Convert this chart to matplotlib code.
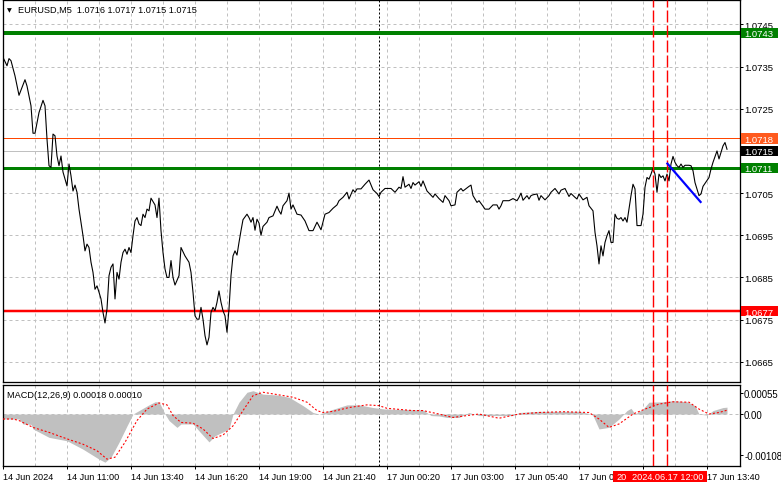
import matplotlib
matplotlib.use("Agg")
import matplotlib.pyplot as plt
from matplotlib.patches import Rectangle
from matplotlib.transforms import blended_transform_factory

plt.rcParams['font.family'] = ['Liberation Sans', 'DejaVu Sans']
plt.rcParams['lines.scale_dashes'] = False

W, H = 781, 489
PX = 0.72  # one pixel in points at dpi 100
FS = 6.6
FS_PRICE = 6.8

# EURUSD M5 closes, bar 0 = 14 Jun 08:20
bar = [0, 2, 3, 4, 6, 8, 11, 12, 14, 15, 16, 18, 20, 21, 22, 23, 24, 25, 26, 27, 28, 29, 30,
       32, 33, 34, 35, 36, 37, 38, 40, 41, 42, 43, 44, 45, 46, 47, 48, 49, 50, 51, 52, 53, 54,
       55, 56, 57, 58, 59, 60, 61, 62, 63, 64, 65, 66, 67, 68, 69, 70, 71, 72, 73, 74, 76, 77,
       78, 79, 80, 81, 82, 83, 84, 85, 86, 88, 89, 91, 93, 94, 95, 96, 97, 98, 99, 100, 101,
       102, 103, 104, 105, 106, 107, 108, 109, 110, 111, 112, 113, 114, 115, 116, 117, 118,
       119, 120, 122, 123, 124, 125, 126, 127, 128, 129, 130, 132, 133, 135, 137, 138, 139,
       140, 142, 143, 144, 145, 147, 149, 151, 153, 155, 157, 159, 161, 163, 165, 167, 168,
       170, 172, 173, 175, 176, 177, 179, 181, 183, 185, 187, 188, 189, 191, 194, 196, 198,
       199, 200, 201, 203, 204, 205, 206, 208, 209, 210, 212, 213, 215, 216, 218, 220, 221,
       223, 224, 226, 227, 229, 230, 233, 234, 235, 237, 238, 240, 241, 243, 245, 247, 248,
       249, 250, 252, 253, 255, 257, 258, 259, 260, 262, 263, 264, 265, 267, 268, 269, 271,
       273, 274, 276, 278, 279, 281, 283, 284, 286, 287, 288, 290, 292, 293, 295, 296, 297,
       298, 299, 300, 301, 302, 303, 304, 305, 306, 307, 308, 309, 310, 311, 312, 314, 315,
       316, 317, 319, 320, 321, 322, 323, 324, 325, 326, 327, 328, 329, 330, 331, 332, 333,
       334, 335, 336, 337, 338, 339, 340, 341, 343, 344, 345, 346, 348, 349, 350, 353, 354,
       355, 357, 358, 360, 361, 362]
close = [1.07372, 1.07352, 1.07369, 1.07364, 1.07328, 1.07282, 1.07319, 1.07304, 1.07257,
         1.07192, 1.07192, 1.07241, 1.07270, 1.07257, 1.07178, 1.07115, 1.07111, 1.07190,
         1.07186, 1.07138, 1.07115, 1.07138, 1.07100, 1.07067, 1.07119, 1.07091, 1.07055,
         1.07069, 1.07052, 1.07012, 1.06949, 1.06913, 1.06929, 1.06921, 1.06886, 1.06862,
         1.06822, 1.06830, 1.06815, 1.06799, 1.06767, 1.06742, 1.06775, 1.06854, 1.06874,
         1.06882, 1.06799, 1.06862, 1.06846, 1.06886, 1.06909, 1.06917, 1.06905, 1.06921,
         1.06909, 1.06949, 1.06984, 1.06992, 1.06977, 1.06973, 1.07000, 1.06992, 1.07012,
         1.07008, 1.07038, 1.07022, 1.06992, 1.07038, 1.06961, 1.06909, 1.06870, 1.06850,
         1.06850, 1.06890, 1.06850, 1.06832, 1.06854, 1.06921, 1.06901, 1.06886, 1.06862,
         1.06815, 1.06759, 1.06751, 1.06751, 1.06779, 1.06751, 1.06712, 1.06690, 1.06708,
         1.06767, 1.06779, 1.06771, 1.06791, 1.06818, 1.06791, 1.06771, 1.06759, 1.06720,
         1.06775, 1.06854, 1.06901, 1.06913, 1.06903, 1.06933, 1.06961, 1.06987, 1.07000,
         1.06992, 1.06981, 1.06992, 1.06962, 1.06988, 1.06979, 1.06950, 1.06971, 1.06981,
         1.06992, 1.06996, 1.07019, 1.07008, 1.07000, 1.07020, 1.07032, 1.07050, 1.07012,
         1.07022, 1.07000, 1.06998, 1.06984, 1.06961, 1.06961, 1.06981, 1.06963, 1.07000,
         1.07004, 1.07014, 1.07022, 1.07032, 1.07040, 1.07052, 1.07036, 1.07058, 1.07052,
         1.07060, 1.07060, 1.07071, 1.07081, 1.07058, 1.07049, 1.07042, 1.07052, 1.07061,
         1.07061, 1.07052, 1.07064, 1.07061, 1.07089, 1.07064, 1.07071, 1.07061, 1.07075,
         1.07069, 1.07077, 1.07066, 1.07079, 1.07055, 1.07050, 1.07040, 1.07048, 1.07037,
         1.07028, 1.07044, 1.07032, 1.07020, 1.07022, 1.07052, 1.07061, 1.07055, 1.07066,
         1.07069, 1.07044, 1.07028, 1.07032, 1.07019, 1.07012, 1.07012, 1.07022, 1.07022,
         1.07012, 1.07020, 1.07032, 1.07032, 1.07032, 1.07037, 1.07032, 1.07040, 1.07050,
         1.07033, 1.07044, 1.07036, 1.07044, 1.07046, 1.07048, 1.07033, 1.07044, 1.07034,
         1.07044, 1.07052, 1.07061, 1.07048, 1.07057, 1.07061, 1.07042, 1.07049, 1.07040,
         1.07036, 1.07048, 1.07034, 1.07040, 1.07020, 1.07008, 1.06957, 1.06925, 1.06882,
         1.06925, 1.06901, 1.06933, 1.06949, 1.06961, 1.06933, 1.06933, 1.07000, 1.06990,
         1.06988, 1.06992, 1.06984, 1.06992, 1.06981, 1.07044, 1.07071, 1.07060, 1.06973,
         1.06973, 1.07000, 1.07064, 1.07087, 1.07083, 1.07095, 1.07109, 1.07095, 1.07052,
         1.07095, 1.07087, 1.07091, 1.07079, 1.07095, 1.07079, 1.07119, 1.07137, 1.07123,
         1.07115, 1.07111, 1.07119, 1.07111, 1.07116, 1.07116, 1.07115, 1.07103, 1.07075,
         1.07044, 1.07048, 1.07066, 1.07087, 1.07107, 1.07123, 1.07150, 1.07131, 1.07162,
         1.07170, 1.07154]

# MACD(12,26,9)
hist_bar = [0, 8, 10, 14, 15, 23, 32, 40, 48, 51, 54, 58, 62, 65, 68, 73, 76, 78, 81, 83, 87,
            89, 95, 98, 103, 106, 113, 115, 118, 122, 125, 130, 137, 143, 150, 155, 158, 163,
            172, 178, 185, 191, 210, 214, 218, 222, 228, 233, 238, 255, 258, 268, 288, 294,
            295, 298, 303, 308, 312, 314, 316, 320, 323, 330, 335, 342, 346, 348, 352, 355,
            360, 362]
hist = [-0.00013, -0.00013, -0.00026, -0.00027, -0.00039, -0.00061, -0.00070, -0.00092,
        -0.00118, -0.00126, -0.00113, -0.00074, -0.00031, 0.0, 0.00009, 0.00024, 0.00032,
        0.00032, 0.0, -0.00017, -0.00035, -0.00026, -0.00026, -0.00044, -0.00073, -0.00057,
        -0.00039, 0.0, 0.00031, 0.00057, 0.00061, 0.00052, 0.00050, 0.00044, 0.00022,
        0.00004, 0.0, 0.00009, 0.00024, 0.00024, 0.00017, 0.00013, 0.00011, -0.00004,
        -0.00005, -0.00009, -0.00009, 0.00004, -0.00004, -0.00004, 0.00004, 0.00007,
        0.00007, 0.0, -0.00004, -0.00039, -0.00035, -0.00013, 0.00009, 0.00015, 0.0,
        0.00013, 0.00031, 0.00032, 0.00035, 0.00032, 0.00022, 0.0, -0.00003, 0.00009,
        0.00017, 0.00018]
sig_bar = [0, 5, 8, 15, 23, 32, 40, 47, 52, 56, 61, 67, 72, 78, 82, 85, 89, 95, 100, 105,
           110, 115, 120, 125, 130, 137, 145, 152, 157, 160, 165, 173, 182, 188, 192, 205,
           210, 218, 225, 232, 238, 248, 258, 268, 280, 293, 298, 303, 308, 315, 321, 328,
           335, 343, 348, 353, 358, 362]
signal = [-0.00013, -0.00013, -0.00017, -0.00035, -0.00048, -0.00065, -0.00079, -0.00096,
          -0.00118, -0.00113, -0.00074, -0.00017, 0.00013, 0.00029, 0.00024, -0.00004,
          -0.00022, -0.00024, -0.00039, -0.00064, -0.00055, -0.00031, 0.00009, 0.00048,
          0.00057, 0.00051, 0.00044, 0.00031, 0.00009, 0.00004, 0.00007, 0.00017, 0.00024,
          0.00022, 0.00015, 0.00009, 0.00009, 0.0, -0.00009, -0.00004, 0.0, -0.00011, 0.0,
          0.00004, 0.00006, 0.00004, -0.00013, -0.00035, -0.00026, 0.0, 0.00013, 0.00026,
          0.00032, 0.00031, 0.00013, 0.0, 0.00004, 0.00010]

# drawn objects
resistance_hi = 1.0743
resistance = 1.0711
support = 1.0677
ask = 1.0718
bid = 1.0715
trend_bar = [332.2, 348.8]
trend_price = [1.07120, 1.07029]
vline_bars = [325, 332]
day_sep_bar = 188

price_ticks = [1.0665, 1.0675, 1.0685, 1.0695, 1.0705, 1.0715, 1.0725, 1.0735, 1.0745]
macd_ticks = [-0.00108, 0.0, 0.00055]
macd_tick_labels = ['-0.00108', '0.00', '0.00055']
time_ticks = [0, 32, 64, 96, 128, 160, 192, 224, 256, 288, 320, 352]
# 08:20 and 11:00 on 17 Jun sit under the red time box, only "17 Jun 0" shows
time_labels = ['14 Jun 2024', '14 Jun 11:00', '14 Jun 13:40', '14 Jun 16:20', '14 Jun 19:00',
               '14 Jun 21:40', '17 Jun 00:20', '17 Jun 03:00', '17 Jun 05:40', '17 Jun 0',
               '', '17 Jun 13:40']


def rect(x0, y0, x1, y1):
    return [x0 / W, 1 - y1 / H, (x1 - x0) / W, (y1 - y0) / H]


fig = plt.figure(figsize=(W / 100, H / 100), dpi=100)
ax = fig.add_axes(rect(2.5, 1, 740, 383))
mx = fig.add_axes(rect(2.5, 386, 740, 467))

grid_kw = dict(color='#c0c0c0', lw=PX, ls=(0, (3 * PX, 3 * PX)), zorder=0)
for a in (ax, mx):
    a.set_xlim(-0.25, 368.5)
    for g in range(16, 368, 16):
        a.axvline(g, **grid_kw)
    a.axvline(day_sep_bar, color='black', lw=PX, ls=(0, (2 * PX, 2 * PX)), zorder=1)
    for b in vline_bars:
        a.axvline(b, color='#ff0000', lw=PX * 1.4, ls=(0, (12 * PX, 3 * PX)), zorder=4,
                  snap=True)
    for s in a.spines.values():
        s.set_linewidth(PX * 1.3)
    a.yaxis.tick_right()
    a.tick_params(axis='y', length=3 * PX, width=PX, pad=0.8)
    a.tick_params(axis='x', length=3 * PX, width=PX, pad=2.2, labelsize=FS)

# price panel
ax.set_ylim(1.06602, 1.07508)
for t in price_ticks:
    ax.axhline(t, **grid_kw)
ax.set_yticks(price_ticks, ['' if t == bid else f'{t:.4f}' for t in price_ticks])
ax.tick_params(axis='y', labelsize=FS_PRICE)
for lab in ax.get_yticklabels():
    lab.set_verticalalignment('center_baseline')
ax.set_xticks([])
ax.axhline(resistance_hi, color='#008000', lw=4 * PX, zorder=2)
ax.axhline(resistance, color='#008000', lw=3 * PX, zorder=2)
ax.axhline(support, color='#ff0000', lw=2.5 * PX, zorder=2)
ax.axhline(ask, color='#ff4500', lw=PX, zorder=2)
ax.axhline(bid, color='#c0c0c0', lw=PX, zorder=2)
ax.plot(bar, close, color='black', lw=PX * 1.1, zorder=3)
ax.plot(trend_bar, trend_price, color='#0000ff', lw=2.2 * PX, zorder=5)

# price boxes on the scale
ylo, yhi = ax.get_ylim()
box_h = 10.5 * (yhi - ylo) / 382
side = blended_transform_factory(fig.transFigure, ax.transData)
for val, fc in [(resistance_hi, '#008000'), (ask, '#ff5a1e'), (bid, 'black'),
                (resistance, '#008000'), (support, '#ff0000')]:
    fig.add_artist(Rectangle((741 / W, val - box_h / 2), 37 / W, box_h, transform=side,
                             fc=fc, ec='none', zorder=5))
    fig.text(744 / W, val, f'{val:.4f}', transform=side, va='center_baseline',
             ha='left', color='white', fontsize=FS_PRICE, zorder=6)

fig.text(7 / W, 1 - 10.5 / H, '\u25bc', fontsize=4.5, va='center', ha='left',
         family='DejaVu Sans')
fig.text(18 / W, 1 - 10.5 / H, 'EURUSD,M5  1.0716 1.0717 1.0715 1.0715', fontsize=FS,
         va='center', ha='left')

# MACD panel
mx.set_ylim(-0.00136, 0.00076)
mx.axhline(0, **grid_kw)
mx.fill_between(hist_bar, hist, 0, color='#c0c0c0', lw=0, zorder=2)
mx.plot(sig_bar, signal, color='#ff0000', lw=PX * 1.1, ls=(0, (2 * PX, 2 * PX)), zorder=3)
mx.set_yticks(macd_ticks, macd_tick_labels)
mx.tick_params(axis='y', labelsize=6.9)
mx.set_xticks(time_ticks, time_labels, ha='left')
fig.text(7 / W, 1 - 395 / H, 'MACD(12,26,9) 0.00018 0.00010', fontsize=FS,
         va='center', ha='left')

# time label of the selected bar
fig.add_artist(Rectangle((613 / W, 1 - 483 / H), 94 / W, 11.5 / H, transform=fig.transFigure,
                         fc='#ff0000', ec='none', zorder=5))
fig.text(616 / W, 1 - 477.5 / H, '20', color='white', fontsize=FS, va='center', zorder=6)
fig.text(632 / W, 1 - 477.5 / H, '2024.06.17 12:00', color='white', fontsize=FS,
         va='center', zorder=6)

fig.savefig('out.png', dpi=100)
